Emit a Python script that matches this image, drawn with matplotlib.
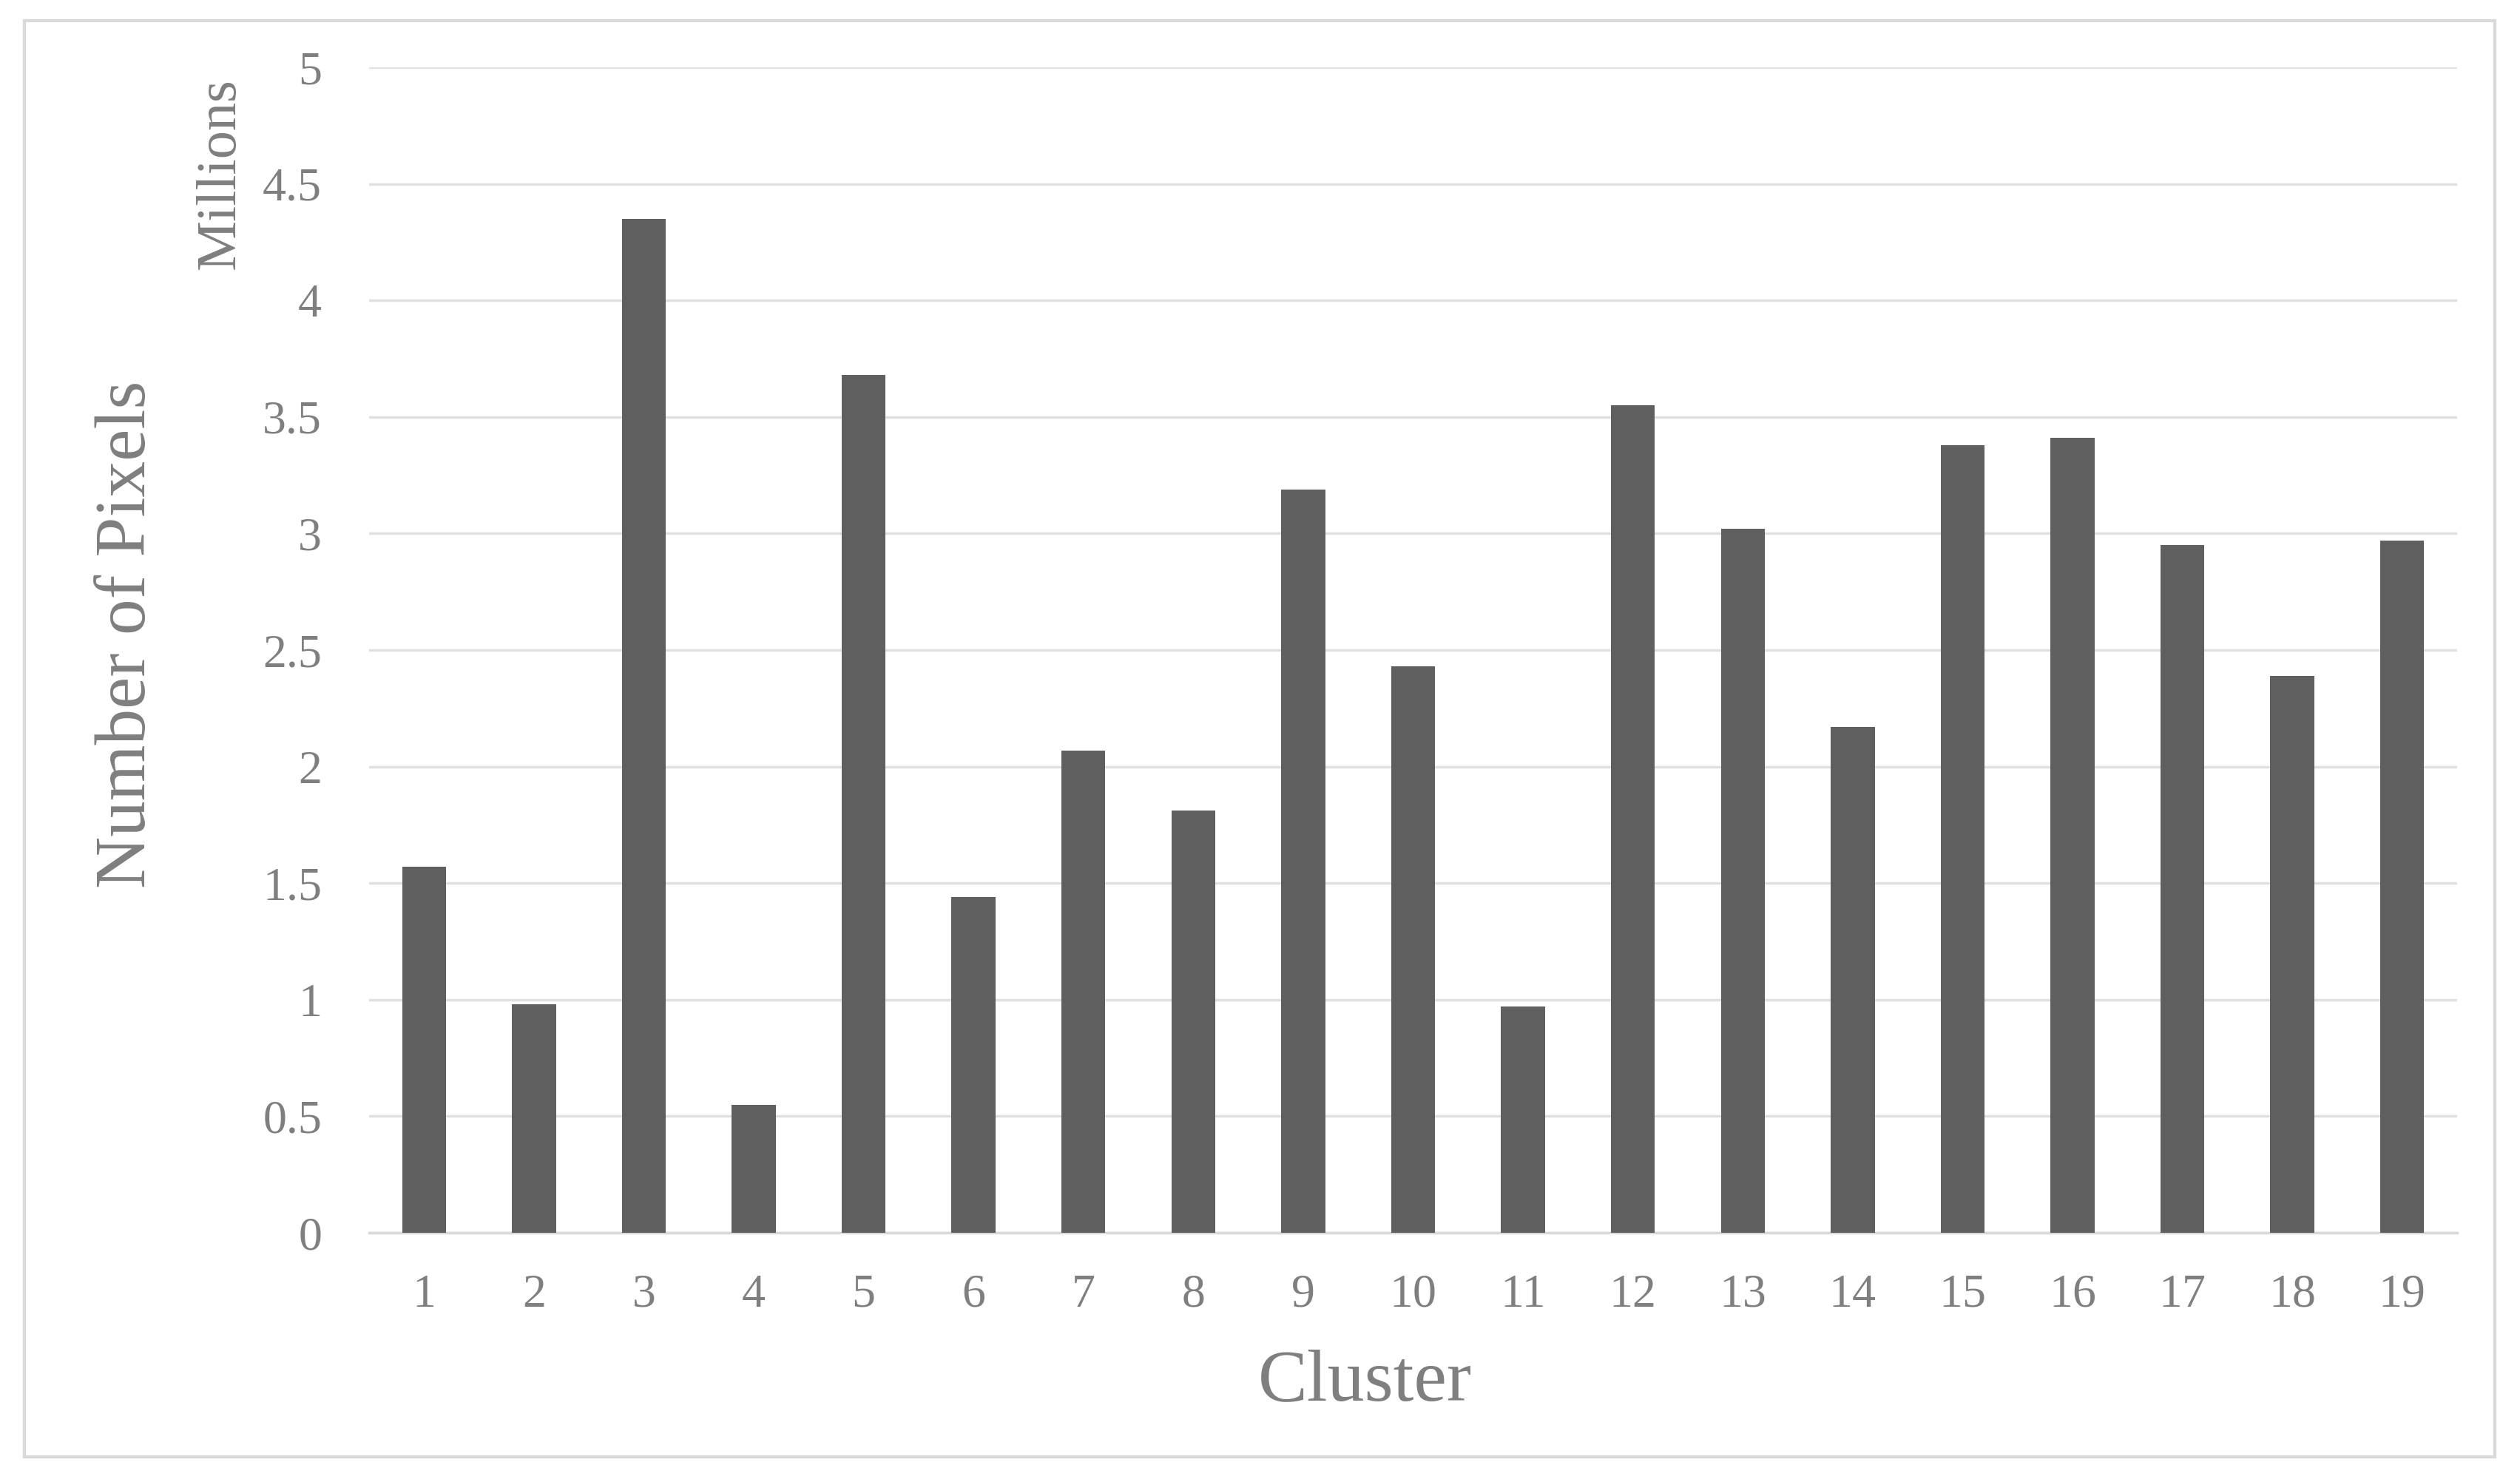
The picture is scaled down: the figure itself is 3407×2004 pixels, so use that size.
import matplotlib
matplotlib.use("Agg")
import matplotlib.pyplot as plt
from matplotlib.patches import Rectangle

clusters = [str(i) for i in range(1, 20)]
pixels_millions = [1.57, 0.98, 4.35, 0.55, 3.68, 1.44, 2.07, 1.81, 3.19, 2.43,
                   0.97, 3.55, 3.02, 2.17, 3.38, 3.41, 2.95, 2.39, 2.97]
y_ticks = [0, 0.5, 1, 1.5, 2, 2.5, 3, 3.5, 4, 4.5, 5]
y_tick_labels = ["0", "0.5", "1", "1.5", "2", "2.5", "3", "3.5", "4", "4.5", "5"]

plt.rcParams['font.family'] = ['Liberation Serif', 'DejaVu Serif']
text_color = "#7f7f7f"
grid_color = "#e0e0e0"
bar_color = "#5f5f5f"

W, H = 3407, 2004
fig = plt.figure(figsize=(W / 100, H / 100), dpi=100)
ax = fig.add_axes([499 / W, 1 - 1667 / H, (3322 - 499) / W, (1667 - 91) / H])

x = list(range(1, len(clusters) + 1))
ax.bar(x, pixels_millions, width=0.40, color=bar_color, zorder=3)

ax.set_xlim(0.5, len(clusters) + 0.5)
ax.set_ylim(0, 5)
ax.set_yticks(y_ticks)
ax.set_yticklabels(y_tick_labels)
ax.set_xticks(x)
ax.set_xticklabels(clusters)

ax.grid(axis='y', color=grid_color, linewidth=2.5, zorder=0)
ax.set_axisbelow(True)
for s in ['top', 'right', 'left']:
    ax.spines[s].set_visible(False)
ax.spines['bottom'].set_color("#d9d9d9")
ax.spines['bottom'].set_linewidth(2.5)
ax.spines['bottom'].set_zorder(1)

ax.tick_params(axis='both', length=0, labelsize=46, colors=text_color)
ax.tick_params(axis='y', pad=46)
ax.tick_params(axis='x', pad=40)

fig.text(1845 / W, 1 - 1869 / H, "Cluster", ha='center', va='center',
         fontsize=72, color=text_color)
fig.text(173 / W, 1 - 858 / H, "Number of Pixels", ha='center', va='center',
         rotation=90, fontsize=70, color=text_color)
fig.text(298 / W, 1 - 235 / H, "Millions", ha='center', va='center',
         rotation=90, fontsize=55, color=text_color)

fig.patches.append(Rectangle((33 / W, 1 - 1970 / H), (3373 - 33) / W, (1970 - 28) / H,
                             transform=fig.transFigure, fill=False,
                             edgecolor="#d9d9d9", linewidth=3))

fig.savefig("out.png", dpi=100, facecolor="white")
